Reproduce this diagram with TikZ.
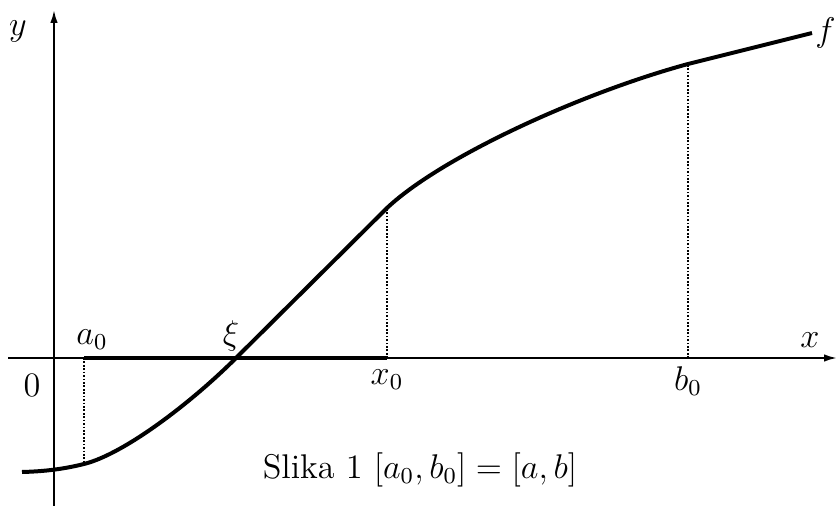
\documentclass[tikz,border=0pt]{standalone}
\usetikzlibrary{arrows.meta}
\tikzset{
  axis/.style={line width=0.7pt, -{Latex[length=4.5pt,width=2.6pt]}},
  graph/.style={line width=1.4pt},
  guide/.style={line width=0.7pt, dash pattern=on 0.6pt off 0.6pt},
  lbl/.style={font=\large, inner sep=1pt},
}
\begin{document}
\begin{tikzpicture}[x=0.35pt, y=-0.35pt]
  \useasboundingbox (0,0) rectangle (838,506);

  % ---- osi ----
  \coordinate (xs) at (8,358);
  \coordinate (xe) at (837,358);
  \coordinate (ys) at (54,506);
  \coordinate (ye) at (54,10);
  \draw[axis] (xs) -- (xe);
  \draw[axis] (ys) -- (ye);
  \node[lbl] (ylab) at (18,31) {$y$};
  \node[lbl] (xlab) at (810,340) {$x$};
  \node[lbl] (orig) at (32,385) {$0$};

  % ---- tocke na osi x ----
  \coordinate (a0) at (84,358);
  \coordinate (xi) at (236,358);
  \coordinate (x0) at (387,358);
  \coordinate (b0) at (688,358);

  % ---- tocke na krivulji ----
  \coordinate (fs) at (22,472);
  \coordinate (fa) at (84,464);
  \coordinate (fx) at (387,208);
  \coordinate (fb) at (688,64);
  \coordinate (fe) at (812,33);

  % ---- krivulja f ----
  \draw[graph] (fs) .. controls (40,471.5) and (60,470) .. (fa)
    .. controls (124,454) and (191,403) .. (xi) -- (fx)
    .. controls (440,158) and (578,94) .. (fb) -- (fe);
  \node[lbl, anchor=west] (flab) at (fe) {$f$};

  % ---- interval [a_0, x_0] ----
  \draw[graph] (a0) -- (x0);

  % ---- okomice ----
  \draw[guide] (a0) -- (fa);
  \draw[guide] (x0) -- (fx);
  \draw[guide] (b0) -- (fb);

  % ---- oznake ----
  \node[lbl] (a0lab) at (92,340) {$a_0$};
  \node[lbl] (xilab) at (231,336) {$\xi$};
  \node[lbl] (x0lab) at (387,380) {$x_0$};
  \node[lbl] (b0lab) at (688,381) {$b_0$};

  % ---- naslov ----
  \node[lbl] (cap) at (420,470) {Slika 1 $[a_0,b_0]=[a,b]$};
\end{tikzpicture}
\end{document}
